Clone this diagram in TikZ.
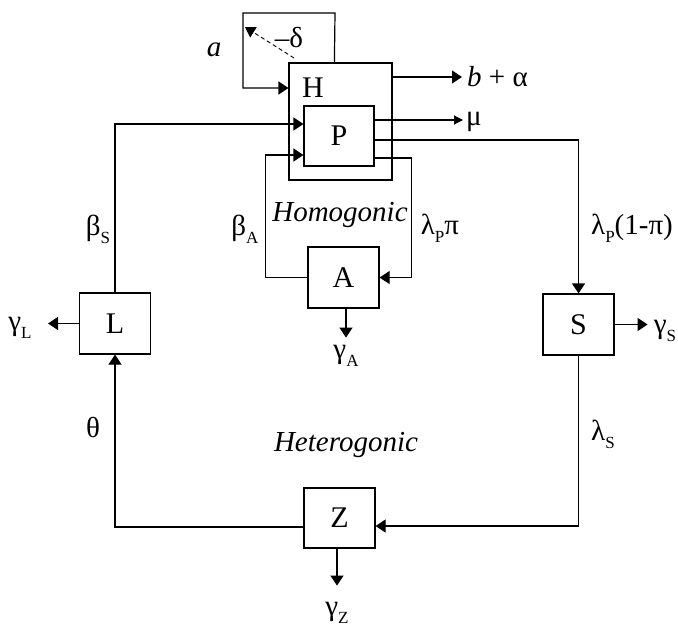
\documentclass[tikz,border=0pt]{standalone}
\usepackage{fontspec}
\setmainfont{Liberation Serif}
\usetikzlibrary{arrows.meta,calc}
\newcommand{\lowsub}[1]{\raisebox{-0.28em}{\fontsize{17}{17}\selectfont #1}}
\begin{document}
\begin{tikzpicture}[x=1pt,y=-1pt,
  box/.style={draw, line width=1.2pt, inner sep=0pt, minimum width=71pt, minimum height=61pt, font=\fontsize{30}{34}\selectfont},
  lbl/.style={inner sep=0pt, font=\fontsize{29}{34}\selectfont},
  ln/.style={line width=1.2pt},
  arr/.style={ln, -{Triangle[length=10pt,width=13pt]}},
  sarr/.style={ln, -{Triangle[length=9pt,width=9pt]}},
  dasharr/.style={line width=0.9pt, dash pattern=on 4pt off 3pt, -{Triangle[length=10pt,width=12pt]}}]
\useasboundingbox (0,0) rectangle (678,626);
% boxes
\node[box, minimum width=103pt, minimum height=117pt] (H) at (340.5,121.5) {};
\node[box, minimum width=70pt, minimum height=60pt] (P) at (339,136) {P};
\node[box] (A) at (343.5,277.5) {A};
\node[box] (L) at (115,323.5) {L};
\node[box] (S) at (578.5,324.5) {S};
\node[box, minimum height=60pt] (Z) at (339.5,518) {Z};
% labels
\node[lbl, font=\fontsize{30}{34}\selectfont] (hlab) at (313,88) {H};
\node[lbl] (la) at (214,50) {\itshape a};
\node[lbl] (ldelta) at (289,38) {–δ};
\node[lbl, anchor=west] (lba) at (467,77) {\textit{b} + α};
\node[lbl, anchor=west] (lmu) at (466,122) {μ};
\node[lbl] (lbs) at (98,229) {β\lowsub{S}};
\node[lbl] (lba2) at (245,229) {β\lowsub{A}};
\node[lbl] (lhomo) at (340,215) {\itshape Homogonic};
\node[lbl] (llpp) at (440,228) {λ\lowsub{P}π};
\node[lbl] (llp1) at (632,228) {λ\lowsub{P}(1-π)};
\node[lbl] (lgl) at (20,328) {γ\lowsub{L}};
\node[lbl] (lga) at (346,356) {γ\lowsub{A}};
\node[lbl] (lgs) at (665,331) {γ\lowsub{S}};
\node[lbl] (ltheta) at (93,428) {θ};
\node[lbl] (lhetero) at (346,445) {\itshape Heterogonic};
\node[lbl] (lls) at (603,434) {λ\lowsub{S}};
\node[lbl] (lgz) at (337,613) {γ\lowsub{Z}};
% free ends
\coordinate (dtail) at (294,58);
\coordinate (dtip) at (245,27);
\coordinate (baend) at (462,77);
\coordinate (muend) at (463,120);
\coordinate (glend) at (48,323.5);
% connectors
\draw[arr] ($(H.north west)+(46,0)$) -- (335,13) -- (243,13) -- (243,88) -- ($(H.west)+(0,-33.5)$);
\draw[dasharr] (dtail) -- (dtip);
\draw[arr] (H.east |- baend) -- (baend);
\draw[sarr] (P.east |- muend) -- (muend);
\draw[arr] ($(P.east)+(0,4)$) -| (S.north);
\draw[arr] ($(P.east)+(0,22)$) -| ($(A.east)+(32,0)$) -- (A.east);
\draw[arr] (A.west) -- ++(-42,0) |- ($(P.west)+(0,19)$);
\draw[arr] (L.north) |- ($(P.west)+(0,-12)$);
\draw[arr] (L.west) -- (glend);
\draw[arr] ($(A.south)+(2.5,0)$) -- ++(0,29);
\draw[arr] (S.east) -- ++(33,0);
\draw[arr] (S.south) |- ($(Z.east)+(0,8)$);
\draw[arr] ($(Z.west)+(0,9)$) -| (L.south);
\draw[arr] ($(Z.south)+(-2.5,0)$) -- ++(0,37);
\end{tikzpicture}
\end{document}
